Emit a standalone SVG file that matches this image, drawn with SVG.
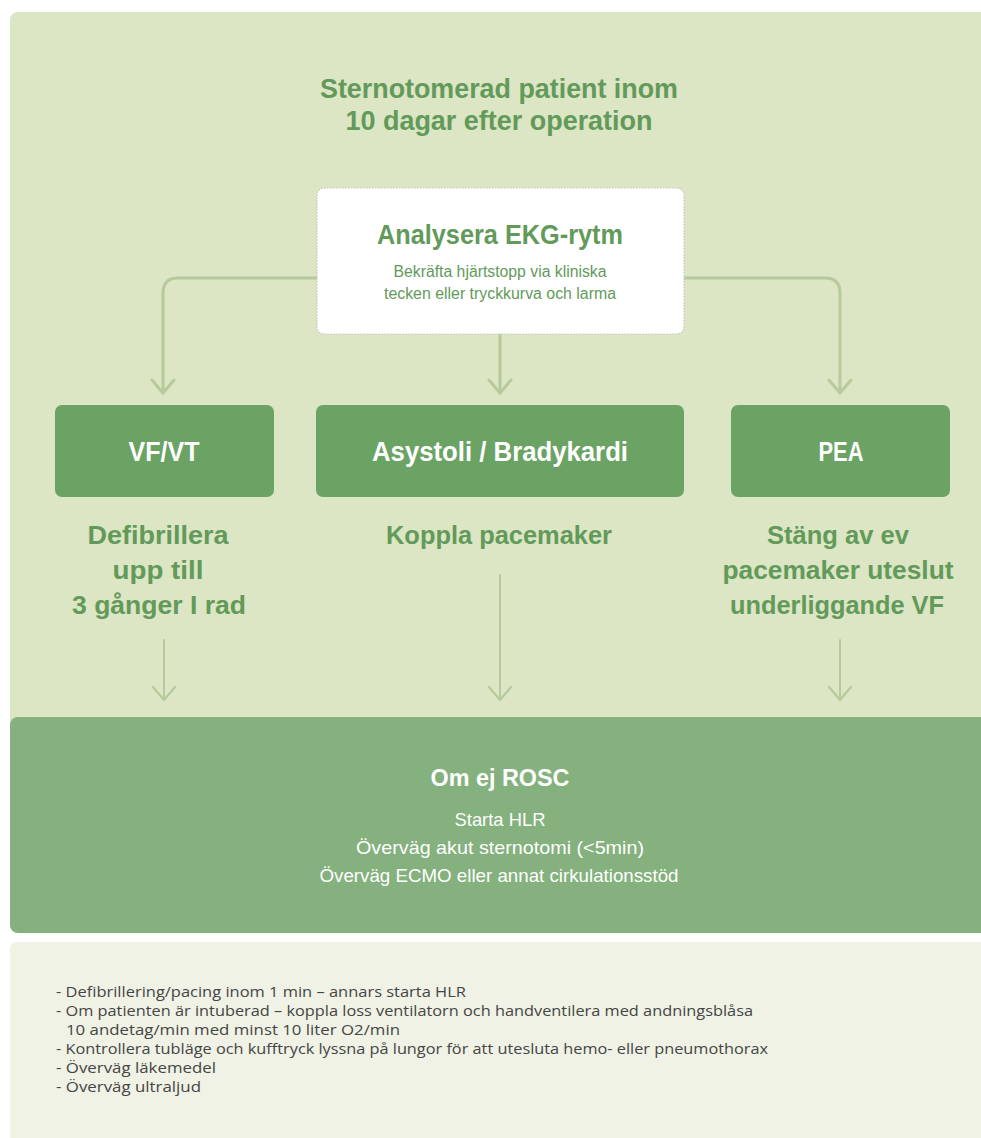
<svg xmlns="http://www.w3.org/2000/svg" width="981" height="1138" viewBox="0 0 981 1138">
<defs>
<style>
.cond{font-family:"Liberation Sans Narrow","Liberation Sans",Arial,sans-serif;font-weight:bold;}
.reg{font-family:"Liberation Sans Narrow","Liberation Sans",Arial,sans-serif;}
.green{fill:#629a5a;}
.white{fill:#ffffff;}
.body{font-family:"Open Sans","Liberation Sans",Arial,sans-serif;fill:#454545;font-size:14px;}
.conn{fill:none;stroke:#b7ca9b;stroke-width:3;stroke-linecap:round;}
.conn2{fill:none;stroke:#b7ca9b;stroke-width:2;stroke-linecap:round;}
</style>
<marker id="chev" viewBox="-3 -3 19 28" refX="13" refY="11" markerWidth="19" markerHeight="28" markerUnits="userSpaceOnUse" orient="auto">
<path d="M0,0 L13,11 L0,22" fill="none" stroke="#b7ca9b" stroke-width="3" stroke-linecap="round" stroke-linejoin="round"/>
</marker>
<marker id="chev2" viewBox="-3 -3 19 28" refX="13" refY="11" markerWidth="19" markerHeight="28" markerUnits="userSpaceOnUse" orient="auto">
<path d="M0,0 L13,11 L0,22" fill="none" stroke="#b7ca9b" stroke-width="2.2" stroke-linecap="round" stroke-linejoin="round"/>
</marker>
</defs>
<rect x="0" y="0" width="981" height="1138" fill="#ffffff"/>
<g id="panel-main">
<rect x="10" y="12" width="990" height="921" rx="8" fill="#dce5c4"/>
</g>
<g id="title">
<text class="cond green" x="499" y="98" font-size="28" text-anchor="middle" textLength="358" lengthAdjust="spacingAndGlyphs">Sternotomerad patient inom</text>
<text class="cond green" x="499" y="130" font-size="28" text-anchor="middle" textLength="307" lengthAdjust="spacingAndGlyphs">10 dagar efter operation</text>
</g>
<g id="connectors">
<path class="conn" d="M317,278 H178 Q163,278 163,293 V393" marker-end="url(#chev)"/>
<path class="conn" d="M684,278 H825 Q840,278 840,293 V393" marker-end="url(#chev)"/>
<path class="conn" d="M500,334 V393" marker-end="url(#chev)"/>
<path class="conn2" d="M164,640 V700" marker-end="url(#chev2)"/>
<path class="conn2" d="M500,575 V700" marker-end="url(#chev2)"/>
<path class="conn2" d="M840,640 V700" marker-end="url(#chev2)"/>
</g>
<g id="node-analysera">
<rect x="317" y="188" width="367" height="146" rx="7" fill="#ffffff" stroke="#c4c8bc" stroke-width="1.2" stroke-dasharray="1.5 1.5"/>
<text class="cond green" x="500" y="244" font-size="27" text-anchor="middle" textLength="246" lengthAdjust="spacingAndGlyphs">Analysera EKG-rytm</text>
<text class="reg green" x="500" y="277" font-size="16" text-anchor="middle" textLength="213" lengthAdjust="spacingAndGlyphs">Bekräfta hjärtstopp via kliniska</text>
<text class="reg green" x="500" y="299" font-size="16" text-anchor="middle" textLength="232" lengthAdjust="spacingAndGlyphs">tecken eller tryckkurva och larma</text>
</g>
<g id="node-vfvt">
<rect x="55" y="405" width="219" height="92" rx="7" fill="#6ba365"/>
<text class="cond white" x="164" y="461" font-size="27" text-anchor="middle" textLength="71" lengthAdjust="spacingAndGlyphs">VF/VT</text>
</g>
<g id="node-asystoli">
<rect x="316" y="405" width="368" height="92" rx="7" fill="#6ba365"/>
<text class="cond white" x="500" y="461" font-size="27" text-anchor="middle" textLength="256" lengthAdjust="spacingAndGlyphs">Asystoli / Bradykardi</text>
</g>
<g id="node-pea">
<rect x="731" y="405" width="219" height="92" rx="7" fill="#6ba365"/>
<text class="cond white" x="841" y="461" font-size="27" text-anchor="middle" textLength="45" lengthAdjust="spacingAndGlyphs">PEA</text>
</g>
<g id="label-defib">
<text class="cond green" x="158" y="544" font-size="26" text-anchor="middle" textLength="141" lengthAdjust="spacingAndGlyphs">Defibrillera</text>
<text class="cond green" x="158" y="579" font-size="26" text-anchor="middle" textLength="91" lengthAdjust="spacingAndGlyphs">upp till</text>
<text class="cond green" x="159" y="614" font-size="26" text-anchor="middle" textLength="174" lengthAdjust="spacingAndGlyphs">3 gånger I rad</text>
</g>
<g id="label-koppla">
<text class="cond green" x="499" y="544" font-size="26" text-anchor="middle" textLength="226" lengthAdjust="spacingAndGlyphs">Koppla pacemaker</text>
</g>
<g id="label-stang">
<text class="cond green" x="838" y="544" font-size="26" text-anchor="middle" textLength="142" lengthAdjust="spacingAndGlyphs">Stäng av ev</text>
<text class="cond green" x="838" y="579" font-size="26" text-anchor="middle" textLength="231" lengthAdjust="spacingAndGlyphs">pacemaker uteslut</text>
<text class="cond green" x="837" y="614" font-size="26" text-anchor="middle" textLength="214" lengthAdjust="spacingAndGlyphs">underliggande VF</text>
</g>
<g id="node-rosc">
<rect x="10" y="717" width="990" height="216" rx="8" fill="#84b17d"/>
<text class="cond white" x="500" y="786" font-size="24" text-anchor="middle" textLength="139" lengthAdjust="spacingAndGlyphs">Om ej ROSC</text>
<text class="reg white" x="500" y="826" font-size="19" text-anchor="middle" textLength="91" lengthAdjust="spacingAndGlyphs">Starta HLR</text>
<text class="reg white" x="500" y="854" font-size="19" text-anchor="middle" textLength="288" lengthAdjust="spacingAndGlyphs">Överväg akut sternotomi (&lt;5min)</text>
<text class="reg white" x="499" y="882" font-size="19" text-anchor="middle" textLength="359" lengthAdjust="spacingAndGlyphs">Överväg ECMO eller annat cirkulationsstöd</text>
</g>
<g id="panel-notes">
<rect x="10" y="942" width="990" height="210" rx="6" fill="#eff2e4"/>
<text class="body" x="56" y="997" textLength="410" lengthAdjust="spacingAndGlyphs">- Defibrillering/pacing inom 1 min – annars starta HLR</text>
<text class="body" x="56" y="1016" textLength="697" lengthAdjust="spacingAndGlyphs">- Om patienten är intuberad – koppla loss ventilatorn och handventilera med andningsblåsa</text>
<text class="body" x="66" y="1035" textLength="334" lengthAdjust="spacingAndGlyphs">10 andetag/min med minst 10 liter O2/min</text>
<text class="body" x="56" y="1054" textLength="712" lengthAdjust="spacingAndGlyphs">- Kontrollera tubläge och kufftryck lyssna på lungor för att utesluta hemo- eller pneumothorax</text>
<text class="body" x="56" y="1073" textLength="160" lengthAdjust="spacingAndGlyphs">- Överväg läkemedel</text>
<text class="body" x="56" y="1092" textLength="145" lengthAdjust="spacingAndGlyphs">- Överväg ultraljud</text>
</g>
</svg>
